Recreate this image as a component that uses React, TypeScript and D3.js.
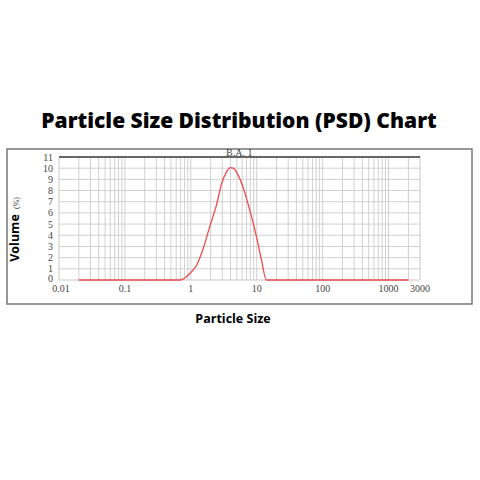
import React from "react";
import * as d3 from "d3";

const sizes = [0.02, 0.1, 0.5, 0.7, 0.84, 0.97, 1.22, 1.52, 1.94, 2.45, 2.92, 3.47, 3.95, 4.4, 5.2, 6.2, 7.8, 9.9, 11.8, 14.0, 100, 1000, 2000];
const volumes = [0, 0, 0, 0, 0.25, 0.6, 1.3, 2.7, 4.8, 6.7, 8.6, 9.65, 10.05, 10.0, 9.4, 8.3, 6.3, 3.9, 1.8, 0, 0, 0, 0];
const xTickValues = [0.01, 0.1, 1, 10, 100, 1000, 3000];
const xTickLabels = ["0.01", "0.1", "1", "10", "100", "1000", "3000"];
const yTickValues = [0, 1, 2, 3, 4, 5, 6, 7, 8, 9, 10, 11];

export default function App() {
  const x = d3.scaleLog().domain([0.01, 3000]).range([59, 420]);
  const y = d3.scaleLinear().domain([0, 11]).range([280, 157]);
  const gridX: number[] = [];
  for (let d = 0.01; d < 3000; d *= 10) {
    for (let m = 1; m <= 9; m++) {
      const v = d * m;
      if (v > 0.0101 && v < 2999) gridX.push(v);
    }
  }
  const line = d3
    .line<number>()
    .x((_, i) => x(sizes[i]))
    .y((v) => y(v))
    .curve(d3.curveMonotoneX);
  const serif = "'Liberation Serif', 'DejaVu Serif', serif";
  const sans = "'Open Sans', 'Noto Sans', sans-serif";
  return (
    <div style={{ position: "absolute", left: 0, top: 0 }}>
      <svg width={480} height={480} style={{ display: "block", background: "#fff" }}>
        <text x={239} y={128} textAnchor="middle" fontFamily={sans} fontWeight={800} fontSize={21} fill="#000">
          Particle Size Distribution (PSD) Chart
        </text>
        <rect x={7} y={149} width={465} height={155} fill="none" stroke="#777" strokeWidth={1.5} />
        {gridX.map((v, i) => (
          <line key={"gx" + i} x1={x(v)} x2={x(v)} y1={y(11)} y2={y(0)} stroke="#d0d0d0" strokeWidth={1} />
        ))}
        {yTickValues.slice(1, 11).map((v) => (
          <line key={"gy" + v} x1={x(0.01)} x2={x(3000)} y1={y(v)} y2={y(v)} stroke="#d0d0d0" strokeWidth={1} />
        ))}
        <line x1={x(0.01)} x2={x(0.01)} y1={y(11)} y2={y(0)} stroke="#c8c8c8" strokeWidth={1} />
        <line x1={x(3000)} x2={x(3000)} y1={y(11)} y2={y(0)} stroke="#c8c8c8" strokeWidth={1} />
        <line x1={x(0.01)} x2={x(3000)} y1={y(0)} y2={y(0)} stroke="#c8c8c8" strokeWidth={1} />
        <text x={226} y={156} fontFamily={serif} fontSize={10} fill="#444">B.A.  1</text>
        <line x1={x(0.01)} x2={x(3000)} y1={y(11)} y2={y(11)} stroke="#666" strokeWidth={2} />
        <path d={line(volumes) || ""} fill="none" stroke="#f04a4a" strokeWidth={1.3} />
        {yTickValues.map((v) => (
          <text key={"yl" + v} x={53} y={y(v) + (v === 0 ? 2 : 3.5)} textAnchor="end" fontFamily={serif} fontSize={10} fill="#444">
            {v}
          </text>
        ))}
        {xTickValues.map((v, i) => (
          <text key={"xl" + i} x={x(v) + (i === 0 ? 2 : 0)} y={292} textAnchor="middle" fontFamily={serif} fontSize={10} fill="#444">
            {xTickLabels[i]}
          </text>
        ))}
        <text transform="translate(19,238) rotate(-90)" textAnchor="middle" fontFamily={sans} fontWeight={700} fontSize={12.5} fill="#000">
          Volume
        </text>
        <text transform="translate(19,203) rotate(-90)" textAnchor="middle" fontFamily={serif} fontSize={8} fill="#444">
          (%)
        </text>
        <text x={233} y={323} textAnchor="middle" fontFamily={sans} fontWeight={700} fontSize={12.5} fill="#000">
          Particle Size
        </text>
      </svg>
    </div>
  );
}
